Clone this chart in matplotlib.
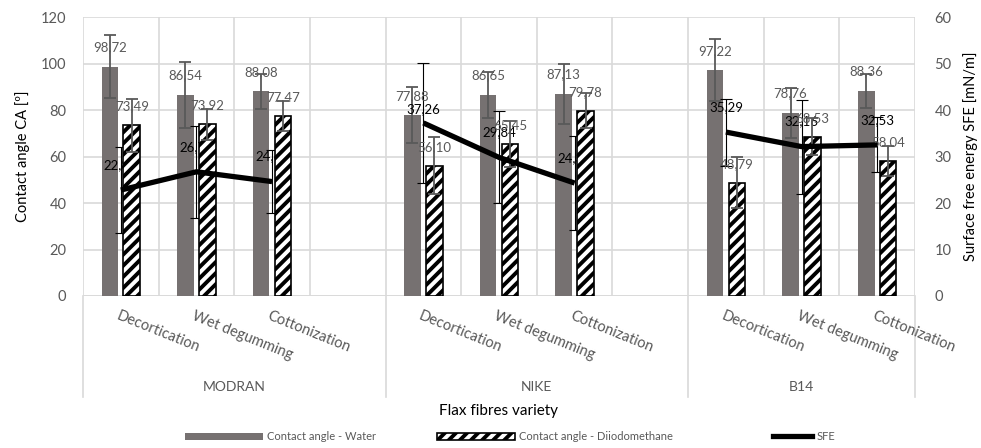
import matplotlib.pyplot as plt
from matplotlib.lines import Line2D
from matplotlib.patches import Patch
from matplotlib.legend_handler import HandlerLine2D
import numpy as np

plt.rcParams['font.family'] = ['Lato', 'DejaVu Sans']
plt.rcParams['hatch.linewidth'] = 2.8

# data
varieties = ["MODRAN", "NIKE", "B14"]
treatments = ["Decortication", "Wet degumming", "Cottonization"]

water = [[98.72, 86.54, 88.08], [77.88, 86.65, 87.13], [97.22, 78.76, 88.36]]
water_err = [[13.5, 14.3, 7.4], [12.0, 10.0, 12.9], [13.3, 10.7, 7.4]]

diiodo = [[73.49, 73.92, 77.47], [56.10, 65.45, 79.78], [48.79, 68.53, 58.04]]
diiodo_err = [[11.3, 6.7, 6.5], [12.3, 10.0, 7.5], [10.9, 7.9, 6.4]]

sfe = [[22.81, 26.74, 24.63], [37.26, 29.84, 24.31], [35.29, 32.16, 32.53]]
sfe_err = [[9.3, 9.9, 6.8], [13.0, 9.9, 10.1], [7.2, 10.1, 5.9]]

grey = "#595959"
grid = "#d9d9d9"
bar_grey = "#767171"

fig = plt.figure(figsize=(9.81, 4.48), dpi=100)
ax = fig.add_axes([0.0846, 0.3393, 0.8481, 0.6221])
ax2 = ax.twinx()

# slot positions: 4 slots per variety (3 used + one empty), last group has 3
xpos = [[4 * g + i for i in range(3)] for g in range(3)]
n_slots = 11
off = 0.145
w = 0.22

ax.set_xlim(-0.5, n_slots - 0.5)
ax.set_ylim(0, 120)
ax2.set_ylim(0, 60)
ax.set_yticks(np.arange(0, 121, 20))
ax2.set_yticks(np.arange(0, 61, 10))

# grid
for y in np.arange(20, 121, 20):
    ax.axhline(y, color=grid, lw=1.2, zorder=0)
for xb in np.arange(-0.5, n_slots, 1.0):
    ax.axvline(xb, color=grid, lw=1.2, zorder=0)
ax.axhline(0, color=grid, lw=1.4, zorder=0.5)

for g in range(3):
    x = np.array(xpos[g])
    ax.bar(x - off, water[g], w, color=bar_grey, zorder=1)
    ax.errorbar(x - off, water[g], yerr=water_err[g], fmt="none", ecolor=grey,
                elinewidth=1.3, capsize=4.5, capthick=1.3, zorder=1.2)
    ax.bar(x + off, diiodo[g], w, facecolor="white", edgecolor="black",
           hatch="///", lw=1.2, zorder=2)
    ax.errorbar(x + off, diiodo[g], yerr=diiodo_err[g], fmt="none", ecolor=grey,
                elinewidth=1.3, capsize=4.5, capthick=1.3, zorder=3)
    # SFE error bars and labels sit between the two bar series (drawn on the
    # primary axes but in the secondary axis' data coordinates)
    s = np.array(sfe[g])
    e = np.array(sfe_err[g])
    ax.vlines(x, s - e, s + e, colors="black", lw=0.8, zorder=1.5,
              transform=ax2.transData)
    ax.plot(np.r_[x, x], np.r_[s - e, s + e], ls="none", marker="_", ms=9,
            mew=0.8, color="black", zorder=1.5, transform=ax2.transData)
    ax2.plot(x, s, color="black", lw=3.8, solid_capstyle="butt", zorder=5)

    for xi, v in zip(x, water[g]):
        ax.annotate(f"{v:.2f}".replace(".", ","), (xi - off, v), xytext=(0, 14),
                    textcoords="offset points", ha="center", va="center",
                    fontsize=9.5, color=grey, zorder=4)
    for xi, v in zip(x, diiodo[g]):
        ax.annotate(f"{v:.2f}".replace(".", ","), (xi + off, v), xytext=(0, 13.5),
                    textcoords="offset points", ha="center", va="center",
                    fontsize=9.5, color=grey, zorder=4)
    for xi, v in zip(x, s):
        dy = 10 if v == 37.26 else 18
        ax.annotate(f"{v:.2f}".replace(".", ","), (xi, v), xycoords=ax2.transData,
                    xytext=(0, dy), textcoords="offset points", ha="center",
                    va="center", fontsize=9.5, color="black", zorder=1.5)

for a in (ax, ax2):
    for sp in a.spines.values():
        sp.set_visible(False)
ax.tick_params(axis="y", length=0, labelsize=10.5, labelcolor=grey, pad=12)
ax2.tick_params(axis="y", length=0, labelsize=10.5, labelcolor=grey, pad=14)
ax.tick_params(axis="x", length=0, labelbottom=False)

ax.set_ylabel("Contact angle CA [º]", fontsize=10.5, labelpad=8)
ax2.set_ylabel("Surface free energy SFE [mN/m]", fontsize=10.5, labelpad=8)

# multi-level category axis
trans = ax.get_xaxis_transform()
for xb in [-0.5, 3.5, 7.5, 10.5]:
    ax.plot([xb, xb], [0, -0.362], color=grid, lw=1.2, transform=trans,
            clip_on=False)
for g in range(3):
    for i, t in enumerate(treatments):
        ax.text(xpos[g][i] - 0.02, -0.045, t, transform=trans, rotation=-22,
                rotation_mode="anchor", ha="left", va="top", fontsize=10.5,
                color=grey)
    gc = -0.5 + 4 * g + (2.0 if g < 2 else 1.5)
    ax.text(gc, -0.327, varieties[g], transform=trans, ha="center",
            va="center", fontsize=10, color=grey)

ax.text(0.5, -0.413, "Flax fibres variety", transform=ax.transAxes,
        ha="center", va="center", fontsize=11)


class ShortLine(HandlerLine2D):
    def create_artists(self, legend, orig_handle, xdescent, ydescent, width,
                       height, fontsize, trans):
        return super().create_artists(legend, orig_handle, xdescent - width * 0.5,
                                      ydescent, width * 0.5, height, fontsize, trans)


sfe_handle = Line2D([], [], color="black", lw=3.8)
handles = [Patch(facecolor=bar_grey),
           Patch(facecolor="white", edgecolor="black", hatch="///", lw=1.2),
           sfe_handle]
labels = ["Contact angle - Water", "Contact angle - Diiodomethane", "SFE"]
leg = fig.legend(handles, labels, loc="center", bbox_to_anchor=(0.52, 0.025),
                 ncol=3, frameon=False, fontsize=8, handlelength=7,
                 handleheight=0.7, columnspacing=5.5, handletextpad=0.4,
                 handler_map={sfe_handle: ShortLine()})
for t in leg.get_texts():
    t.set_color(grey)

fig.savefig("out.png", dpi=100)
